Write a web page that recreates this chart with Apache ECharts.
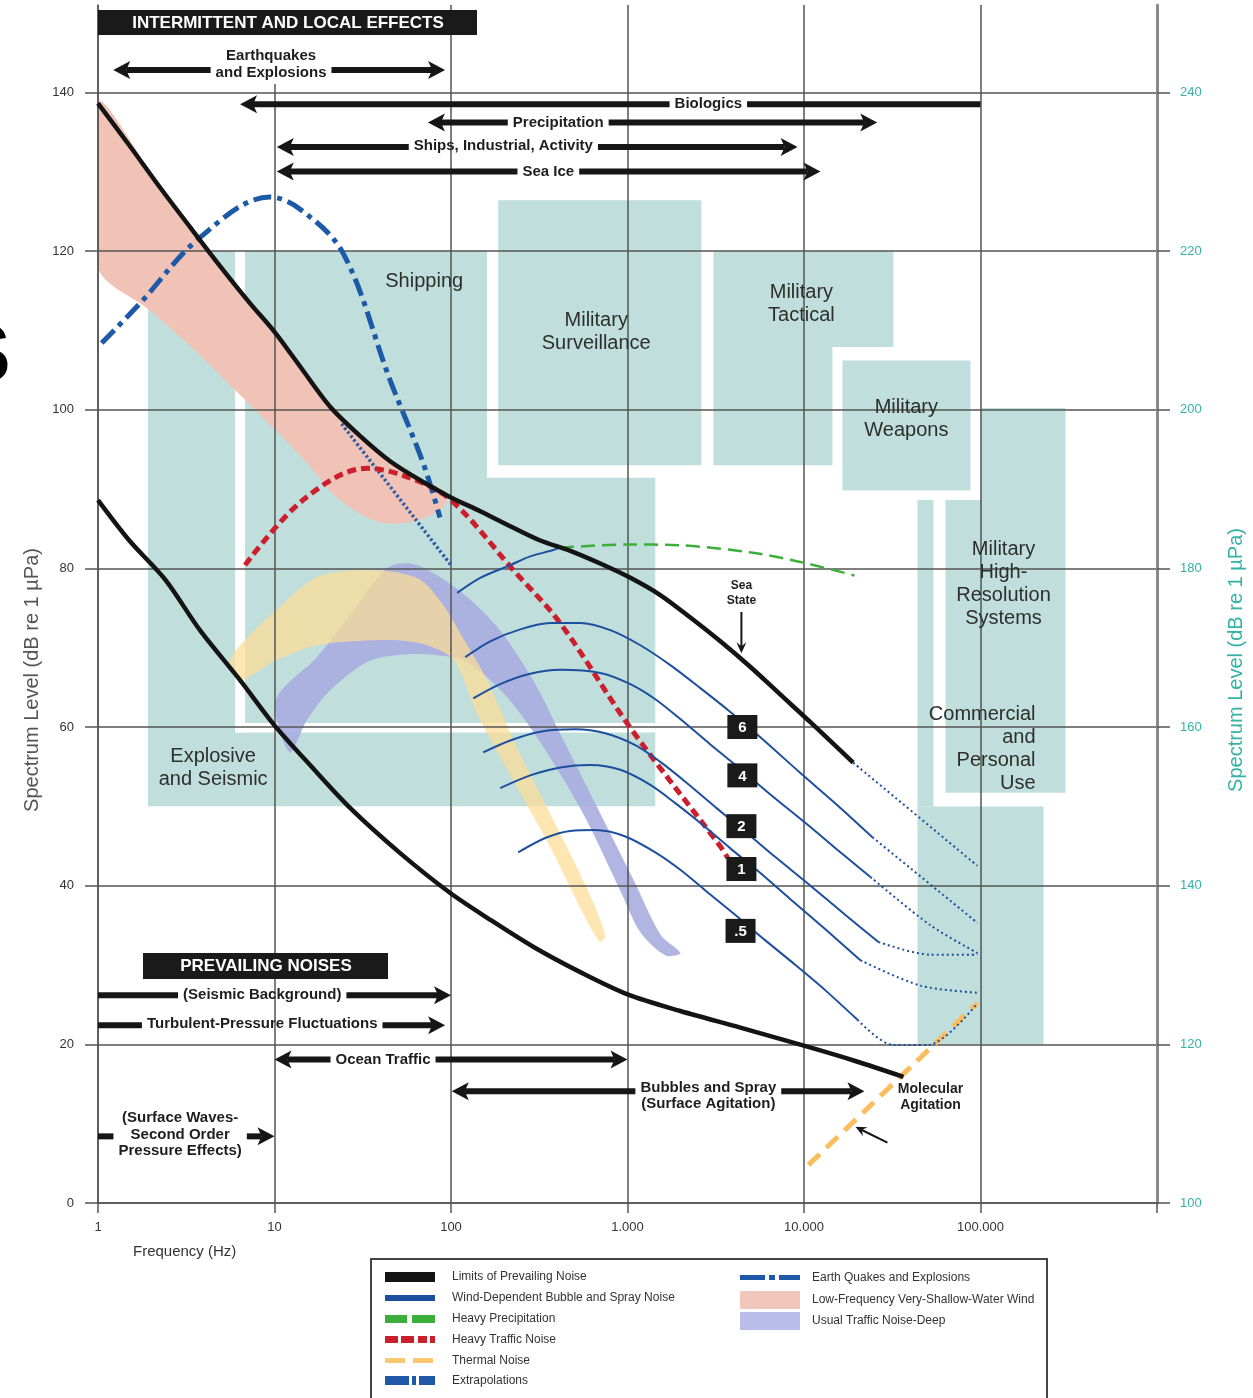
<!DOCTYPE html>
<html><head><meta charset="utf-8">
<script src="https://cdn.jsdelivr.net/npm/echarts@6/dist/echarts.min.js"></script>
<style>html,body{margin:0;padding:0;background:#fff}#c{width:1253px;height:1398px}</style>
</head><body><div id="c"></div>
<script>
// ---------------- DATA (frequency in Hz, level in dB re 1 µPa) ----------------
const xTickLabels = ['1', '10', '100', '1.000', '10.000', '100.000', ''];

const upperLimit = [[1,138.6],[1.518,133.2],[2.246,128.0],[3.326,123.0],[4.915,118.1],[7.27,113.4],[10,109.8],[13.9,105.5],[20.6,100.4],[30.5,96.7],[45.2,93.5],[66.9,91.1],[98.6,89.0],[146.4,87.2],[216.6,85.3],[320.3,83.5],[473.9,82.2],[701.1,80.6],[1038,78.8],[1540,76.6],[2270,73.8],[3358,70.8],[5010,67.5],[7330,64.1],[10870,60.6],[19000,55.5]];
const upperLimitExt = [[19000,55.5],[96000,42.5]];
const lowerLimit = [[1,88.6],[1.518,83.4],[2.398,78.6],[3.78,72.2],[6.38,65.9],[10,60.2],[15.9,55.2],[26.8,49.8],[51.5,44.1],[98.6,39.1],[166.8,35.7],[292,32.3],[540,29.1],[1000,26.3],[1992,24.2],[4360,22.1],[10450,19.7],[19500,17.9],[36600,15.9]];
const quakes = [[1.05,108.4],[1.73,113.4],[3.78,121.7],[9.4,126.8],[13.9,125.3],[24.5,119.7],[45.2,103.7],[69.7,93.2],[86.6,86.4]];
const trafficExt = [[24,98.2],[100,80.4]];
const heavyTraffic = [[6.81,80.4],[14.5,88.6],[33.5,92.6],[60,91.3],[100,88.6],[225,79.8],[415,73.1],[1030,60.0],[3370,44.9],[3700,43.5]];
const heavyPrecip = [[415,82.6],[1000,83.0],[1990,82.9],[5010,82.0],[9530,80.8],[19300,79.1]];
const thermal = [[10600,4.8],[96000,25.2]];

// wind-dependent bubble & spray noise (sea states)
const windTop = [[108.4,76.9],[146.4,78.8],[216.6,80.4],[281.2,81.5],[379.6,82.3],[415.9,82.6]];
const ss6 = [[120.4,68.8],[166.8,70.8],[246.8,72.3],[365.1,73.1],[540.1,73.1],[798.8,72.2],[1182,70.3],[1748,67.8],[2587,64.9],[3826,61.9],[5658,58.7],[9541,54.2],[16080,49.8],[24420,46.1]];
const ss6Ext = [[24420,46.1],[96160,35.3]];
const ss4 = [[133.6,63.6],[190.1,65.4],[281.2,66.7],[415.9,67.2],[701.1,66.8],[1037,65.4],[1437,63.5],[1992,61.0],[2947,57.8],[4360,54.7],[6449,51.5],[10870,47.4],[16080,44.2],[23790,41.1]];
const ss4Ext = [[23790,41.1],[52070,35.0],[96160,31.5]];
const ss2 = [[152.2,56.8],[216.6,58.3],[320.3,59.4],[505.9,59.7],[748.5,59.2],[1107,57.7],[1534,55.6],[2127,53.1],[3146,49.9],[4654,46.8],[6884,43.6],[10870,40.0],[17170,36.3],[26410,32.9]];
const ss2Ext = [[26410,32.9],[52070,31.3],[96160,31.3]];
const ss1 = [[190.1,52.3],[281.2,53.9],[415.9,54.9],[615.4,55.2],[910.4,54.6],[1347,52.7],[1866,50.4],[2587,47.9],[3826,44.7],[5658,41.6],[8374,38.3],[13220,34.5],[20870,30.6]];
const ss1Ext = [[20870,30.6],[45700,27.4],[96160,26.5]];
const ss05 = [[240.4,44.2],[342.0,46.0],[473.9,46.9],[656.9,47.0],[971.6,46.2],[1437,44.2],[1992,42.0],[2761,39.4],[4085,36.3],[6042,33.1],[8941,30.0],[13220,26.8],[20080,23.1]];
const ss05Ext = [[20080,23.1],[32120,19.9],[50060,19.9],[96160,25.2]];
const seaStates = ['6', '4', '2', '1', '.5'];
const seaStateAt = [[4475,60.0],[4475,53.9],[4420,47.5],[4420,42.1],[4370,34.3]];

// bands
const pinkF    = [1, 1.97, 3.78, 7.27, 13.9, 23.5, 39.7, 66.9, 92.6];
const pinkLow  = [117.9, 112.5, 106.9, 100.6, 94.3, 88.6, 85.8, 86.1, 88.0];
const pinkHigh = [138.6, 129.9, 121.3, 113.4, 105.5, 99.2, 94.6, 91.1, 89.3];
const shallowTrafficUpper = [[5.60,68.4],[7.27,71.6],[10.2,74.7],[17.4,78.9],[33.5,79.8],[64.1,78.8],[90.2,75.4],[117,71.2],[160,65.9],[235,57.5],[364,49.1],[560,40.7],[749,33.8]];
const shallowTrafficLower = [[701,32.9],[560,36.5],[364,44.9],[225,53.3],[140,61.7],[104,68.4],[73.4,70.3],[51.5,70.9],[33.5,70.9],[17.4,70.3],[10.2,68.4],[6.38,65.9]];
const deepTrafficUpper = [[10.2,63.4],[17.4,68.8],[26.8,74.1],[43.3,80.0],[58.7,80.6],[79.4,79.4],[123,76.4],[189,72.2],[292,65.9],[453,57.5],[701,49.1],[1083,40.7],[1540,33.8],[1992,31.5]];
const deepTrafficLower = [[1644,31.2],[1186,34.1],[909,39.4],[560,49.1],[333,57.5],[207,63.8],[123,68.2],[79.4,69.1],[51.5,69.1],[33.5,68.2],[20.6,64.6],[15.3,60.9],[12.2,56.8]];

// application zones: [fLow, fHigh, dBLow, dBHigh, kind]
const appZones = [
  [1.92, 1437, 50, 120, 'zone'],        // explosive & seismic / shipping
  [5.98, 6.81, 59.3, 120, 'gap'],
  [5.98, 1437, 59.3, 60.5, 'gap'],
  [160, 2800, 91.4, 127.5, 'gap'],
  [185, 2620, 93, 126.4, 'zone'],       // surveillance
  [3065, 32100, 93, 120, 'zone'],       // tactical
  [43950, 54150, 50, 88.6, 'zone'],     // commercial strip
  [43950, 227600, 20, 50, 'zone'],      // commercial
  [55590, 345600, 50, 101.4, 'gap'],
  [63320, 303300, 51.7, 100.2, 'zone'], // high resolution
  [14490, 100000, 88.6, 107.9, 'gap'],
  [16510, 87770, 89.8, 106.2, 'zone']   // weapons
];
const zoneNames = ['Shipping', 'Military\nSurveillance', 'Military\nTactical', 'Military\nWeapons', 'Military\nHigh-\nResolution\nSystems', 'Commercial\nand\nPersonal\nUse', 'Explosive\nand Seismic'];
const zoneLabelAt = [[70.5,116.2],[665,109.8],[9670,113.3],[38000,98.8],[135000,78.0],[205000,57.2],[4.49,54.8]];

// range arrows: [label, fFrom, fTo, dB level, headAtFrom, headAtTo]
const rangeArrows = [
  ['Earthquakes\nand Explosions', 1.22, 92.6, 142.8, 1, 1],
  ['Biologics', 6.38, 100000, 138.5, 1, 0],
  ['Precipitation', 74, 26000, 136.2, 1, 1],
  ['Ships, Industrial, Activity', 10.3, 9200, 133.1, 1, 1],
  ['Sea Ice', 10.3, 12400, 130.0, 1, 1],
  ['(Seismic Background)', 1, 100, 26.2, 0, 1],
  ['Turbulent-Pressure Fluctuations', 1, 92.6, 22.4, 0, 1],
  ['Ocean Traffic', 10, 1000, 18.1, 1, 1],
  ['Bubbles and Spray\n(Surface Agitation)', 101, 22000, 14.1, 1, 1],
  ['(Surface Waves-\nSecond Order\nPressure Effects)', 1, 10, 8.4, 0, 1]
];
const rangeLabelAt = [[9.56,143.5],[2870,138.5],[405,136.2],[198,133.2],[356,130.0],[8.52,26.2],[8.52,22.6],[41.2,18.1],[2870,13.5],[2.92,8.6]];
const pointerNotes = ['Sea\nState', 'Molecular\nAgitation'];
const pointerNoteAt = [[4420,76.9],[52100,13.4]];
const pointerArrows = [[[4420,74.5],[4420,69.3]], [[29700,7.6],[19560,9.6]]];

const legendLeft = ['Limits of Prevailing Noise', 'Wind-Dependent Bubble and Spray Noise', 'Heavy Precipitation', 'Heavy Traffic Noise', 'Thermal Noise', 'Extrapolations'];
const legendRight = ['Earth Quakes and Explosions', 'Low-Frequency Very-Shallow-Water Wind', 'Usual Traffic Noise-Deep'];

// ---------------- RENDER ----------------
const FONT = '"Liberation Sans", Arial, Helvetica, sans-serif';
const TEAL = '#bfdedc', BLUE = '#1d4f9f', DARK = '#2e2e2e';
const mctx = document.createElement('canvas').getContext('2d');
function textWidth(t, font) { mctx.font = font; return Math.max.apply(null, t.split('\n').map(s => mctx.measureText(s).width)); }
const LEG_FONT = '12px ' + FONT;

function lineSeries(name, data, color, width, type, smooth) {
  return { type: 'line', name, data, smooth: smooth == null ? 0.3 : smooth, showSymbol: false, symbol: 'none', silent: true, z: 3,
    lineStyle: { color, width, type: type || 'solid', cap: 'butt' } };
}
function bandSeries(name, pts, color, opacity) {
  return { type: 'custom', name, z: 1, silent: true, clip: true, data: pts, encode: { x: 0, y: 1 },
    renderItem(params, api) {
      if (params.dataIndex !== 0) return null;
      return { type: 'polygon', shape: { points: pts.map(p => api.coord(p)), smooth: 0.3 }, style: { fill: color, opacity } };
    } };
}
function head(tx, ty, ux, uy, L, W) {
  const nx = -uy, ny = ux;
  return { type: 'polygon', shape: { points: [[tx, ty], [tx - ux * L + nx * W, ty - uy * L + ny * W], [tx - ux * (L - 4), ty - uy * (L - 4)], [tx - ux * L - nx * W, ty - uy * L - ny * W]] }, style: { fill: '#161616' } };
}

const pinkPts = pinkF.map((f, i) => [f, pinkHigh[i] + 0.2]).concat(pinkF.map((f, i) => [f, pinkLow[i]]).reverse());

const series = [
  { type: 'custom', name: 'zones', z: 1, silent: true, data: appZones.map(d => [d[0], d[1], d[2], d[3]]), encode: { x: [0, 1], y: [2, 3] },
    renderItem(params, api) {
      const d = appZones[params.dataIndex];
      const p1 = api.coord([d[0], d[3]]), p2 = api.coord([d[1], d[2]]);
      return { type: 'rect', shape: { x: p1[0], y: p1[1], width: p2[0] - p1[0], height: p2[1] - p1[1] }, style: { fill: d[4] === 'gap' ? '#ffffff' : TEAL } };
    } },
  bandSeries('Low-Frequency Very-Shallow-Water Wind', pinkPts, '#f1c3b6', 1),
  bandSeries('Usual Traffic Noise-Deep', deepTrafficUpper.concat(deepTrafficLower), '#a9addf', 0.9),
  bandSeries('Usual Traffic Noise-Shallow', shallowTrafficUpper.concat(shallowTrafficLower), '#fddc95', 0.72),
  lineSeries('Earth Quakes and Explosions', quakes, '#1c5aa8', 5, [18, 6, 5, 6], 0.35),
  lineSeries('Extrapolations', trafficExt, '#2b5ca8', 3.5, [2.5, 2.5]),
  lineSeries('Heavy Traffic Noise', heavyTraffic, '#cc1f2d', 5, [9, 5], 0.35),
  lineSeries('Heavy Precipitation', heavyPrecip, '#3cae3a', 2.5, [14, 7]),
  lineSeries('Thermal Noise', thermal, '#fbbd5e', 5, [16, 9]),
  lineSeries('Wind', windTop, BLUE, 2),
  lineSeries('Sea state 6', ss6, BLUE, 2),
  lineSeries('Sea state 4', ss4, BLUE, 2),
  lineSeries('Sea state 2', ss2, BLUE, 2),
  lineSeries('Sea state 1', ss1, BLUE, 2),
  lineSeries('Sea state .5', ss05, BLUE, 2),
  lineSeries('ext6', ss6Ext, BLUE, 2, [2, 3]),
  lineSeries('ext4', ss4Ext, BLUE, 2, [2, 3]),
  lineSeries('ext2', ss2Ext, BLUE, 2, [2, 3]),
  lineSeries('ext1', ss1Ext, BLUE, 2, [2, 3]),
  lineSeries('ext05', ss05Ext, BLUE, 2, [2, 3]),
  lineSeries('extUpper', upperLimitExt, BLUE, 2, [2, 3]),
  lineSeries('Limits of Prevailing Noise', upperLimit, '#141414', 4.5),
  lineSeries('Limits of Prevailing Noise (lower)', lowerLimit, '#141414', 4.5),
  { type: 'custom', name: 'ranges', z: 5, silent: true, data: rangeArrows.map(a => [a[1], a[3], a[2]]), encode: { x: [0, 2], y: 1 },
    renderItem(params, api) {
      const i = params.dataIndex, a = rangeArrows[i];
      const p1 = api.coord([a[1], a[3]]), p2 = api.coord([a[2], a[3]]), lp = api.coord(rangeLabelAt[i]);
      const font = 'bold 15px ' + FONT;
      const gw = textWidth(a[0], font) / 2 + 5;
      const y = p1[1], HL = 17, HW = 9, SW = 6;
      const ch = [];
      const xs = p1[0] + (a[4] ? HL - 4 : 0), xe = p2[0] - (a[5] ? HL - 4 : 0);
      const gl = lp[0] - gw, gr = lp[0] + gw;
      if (gl > xs) ch.push({ type: 'rect', shape: { x: xs, y: y - SW / 2, width: Math.min(gl, xe) - xs, height: SW }, style: { fill: '#161616' } });
      if (gr < xe) ch.push({ type: 'rect', shape: { x: Math.max(gr, xs), y: y - SW / 2, width: xe - Math.max(gr, xs), height: SW }, style: { fill: '#161616' } });
      if (a[4]) ch.push(head(p1[0], y, -1, 0, HL, HW));
      if (a[5]) ch.push(head(p2[0], y, 1, 0, HL, HW));
      ch.push({ type: 'text', x: lp[0], y: lp[1], style: { text: a[0], font, fill: '#1e1e1e', align: 'center', verticalAlign: 'middle', lineHeight: 16.5 } });
      return { type: 'group', children: ch };
    } },
  { type: 'custom', name: 'pointers', z: 5, silent: true, data: pointerNoteAt, encode: { x: 0, y: 1 },
    renderItem(params, api) {
      const i = params.dataIndex;
      const p = api.coord(pointerNoteAt[i]);
      const a = api.coord(pointerArrows[i][0]), b = api.coord(pointerArrows[i][1]);
      const dx = b[0] - a[0], dy = b[1] - a[1], L = Math.hypot(dx, dy), ux = dx / L, uy = dy / L;
      return { type: 'group', children: [
        { type: 'line', shape: { x1: a[0], y1: a[1], x2: b[0] - ux * 6, y2: b[1] - uy * 6 }, style: { stroke: '#161616', lineWidth: 2 } },
        head(b[0], b[1], ux, uy, 11, 5),
        { type: 'text', x: p[0], y: p[1], style: { text: pointerNotes[i], font: (i === 0 ? 'bold 12px ' : 'bold 14px ') + FONT, fill: '#1e1e1e', align: 'center', verticalAlign: 'middle', lineHeight: i === 0 ? 15 : 16 } }
      ] };
    } },
  { type: 'custom', name: 'seaStateTags', z: 5, silent: true, data: seaStateAt, encode: { x: 0, y: 1 },
    renderItem(params, api) {
      const p = api.coord(seaStateAt[params.dataIndex]);
      return { type: 'group', children: [
        { type: 'rect', shape: { x: p[0] - 15, y: p[1] - 12, width: 30, height: 24 }, style: { fill: '#1a1a1a' } },
        { type: 'text', x: p[0], y: p[1] + 1, style: { text: seaStates[params.dataIndex], font: 'bold 15px ' + FONT, fill: '#ffffff', align: 'center', verticalAlign: 'middle' } }
      ] };
    } },
  { type: 'custom', name: 'zoneNames', z: 5, silent: true, data: zoneLabelAt, encode: { x: 0, y: 1 },
    renderItem(params, api) {
      const i = params.dataIndex, p = api.coord(zoneLabelAt[i]);
      const right = zoneNames[i].indexOf('Commercial') === 0;
      return { type: 'text', x: p[0], y: p[1], style: { text: zoneNames[i], font: '20px ' + FONT, fill: DARK, align: right ? 'right' : 'center', verticalAlign: 'middle', lineHeight: 23 } };
    } }
];

// legend drawn as graphic
const LY = [1277, 1298, 1319, 1340, 1361, 1381], RY = [1278, 1300, 1321];
function r(x, y, w, h, c) { return { type: 'rect', shape: { x, y, width: w, height: h }, style: { fill: c } }; }
const legendEls = [
  { type: 'rect', shape: { x: 371, y: 1259, width: 676, height: 150 }, style: { fill: '#fff', stroke: '#444', lineWidth: 2 } },
  r(385, LY[0] - 5, 50, 10, '#141414'),
  r(385, LY[1] - 3, 50, 6, BLUE),
  r(385, LY[2] - 4, 22, 8, '#3cae3a'), r(412, LY[2] - 4, 23, 8, '#3cae3a'),
  r(385, LY[3] - 4, 13, 7, '#cc1f2d'), r(401, LY[3] - 4, 13, 7, '#cc1f2d'), r(418, LY[3] - 4, 9, 7, '#cc1f2d'), r(430, LY[3] - 4, 5, 7, '#cc1f2d'),
  r(385, LY[4] - 3, 20, 5, '#fbc870'), r(413, LY[4] - 3, 20, 5, '#fbc870'),
  r(385, LY[5] - 5, 24, 9, '#1f58a6'), r(412, LY[5] - 5, 4, 9, '#1f58a6'), r(419, LY[5] - 5, 16, 9, '#1f58a6'),
  r(740, RY[0] - 3, 25, 5, '#1f58a6'), r(769, RY[0] - 3, 6, 5, '#1f58a6'), r(779, RY[0] - 3, 21, 5, '#1f58a6'),
  r(740, RY[1] - 9, 60, 18, '#f2c6ba'),
  r(740, RY[2] - 9, 60, 18, '#b9bde8')
];
legendLeft.forEach((t, i) => legendEls.push({ type: 'text', x: 452, y: LY[i], style: { text: t, font: LEG_FONT, fill: '#333', align: 'left', verticalAlign: 'middle' } }));
legendRight.forEach((t, i) => legendEls.push({ type: 'text', x: 812, y: RY[i], style: { text: t, font: LEG_FONT, fill: '#333', align: 'left', verticalAlign: 'middle' } }));

const graphic = [
  { type: 'rect', x: 272, y: 0, z: 3, shape: { width: 7, height: 84 }, style: { fill: '#ffffff' } },
  { type: 'text', x: -44, y: 358, z: 10, style: { text: 'S', font: 'bold 82px ' + FONT, fill: '#000', align: 'left', verticalAlign: 'middle' } },
  { type: 'rect', x: 98, y: 10, z: 10, shape: { width: 379, height: 25 }, style: { fill: '#1a1a1a' } },
  { type: 'text', x: 288, y: 23, z: 11, style: { text: 'INTERMITTENT AND LOCAL EFFECTS', font: 'bold 17px ' + FONT, fill: '#fff', align: 'center', verticalAlign: 'middle' } },
  { type: 'rect', x: 143, y: 953, z: 10, shape: { width: 245, height: 26 }, style: { fill: '#1a1a1a' } },
  { type: 'text', x: 266, y: 966, z: 11, style: { text: 'PREVAILING NOISES', font: 'bold 17px ' + FONT, fill: '#fff', align: 'center', verticalAlign: 'middle' } },
  { type: 'text', x: 32, y: 680, rotation: Math.PI / 2, z: 10, style: { text: 'Spectrum Level (dB re 1 µPa)', font: '20px ' + FONT, fill: '#555', align: 'center', verticalAlign: 'middle' } },
  { type: 'text', x: 1236, y: 660, rotation: Math.PI / 2, z: 10, style: { text: 'Spectrum Level (dB re 1 µPa)', font: '20px ' + FONT, fill: '#33b2a6', align: 'center', verticalAlign: 'middle' } },
  { type: 'text', x: 133, y: 1252, z: 10, style: { text: 'Frequency (Hz)', font: '15px ' + FONT, fill: '#333', align: 'left', verticalAlign: 'middle' } },
  { type: 'group', z: 10, children: legendEls }
];

const GRIDC = '#555';
const option = {
  animation: false,
  backgroundColor: '#fff',
  grid: { left: 98, right: 96, top: 5, bottom: 195, containLabel: false },
  xAxis: { type: 'log', logBase: 10, min: 1, max: 1000000, z: 2,
    axisLine: { show: true, lineStyle: { color: GRIDC, width: 1.5 } },
    axisTick: { show: true, length: 10, lineStyle: { color: GRIDC, width: 1.5 } },
    axisLabel: { margin: 18, fontSize: 13, color: '#333', fontFamily: FONT, formatter: v => xTickLabels[Math.round(Math.log10(v))] || '' },
    splitLine: { show: true, lineStyle: { color: GRIDC, width: 1.5 } }, minorTick: { show: false } },
  yAxis: [
    { type: 'value', min: 0, max: 151, interval: 20, position: 'left', z: 2,
      axisLine: { show: true, lineStyle: { color: GRIDC, width: 1.5 } },
      axisTick: { show: true, length: 13, lineStyle: { color: GRIDC, width: 1.5 } },
      axisLabel: { margin: 24, fontSize: 13, color: '#333', fontFamily: FONT, showMaxLabel: false, formatter: v => (v > 140 ? '' : String(v)) },
      splitLine: { show: true, showMaxLine: false, lineStyle: { color: GRIDC, width: 1.5 } } },
    { type: 'value', min: 100, max: 251, interval: 20, position: 'right', z: 2,
      axisLine: { show: true, lineStyle: { color: '#8a8a8a', width: 3 } },
      axisTick: { show: true, length: 13, lineStyle: { color: GRIDC, width: 1.5 } },
      axisLabel: { margin: 23, fontSize: 13, color: '#33b2a6', fontFamily: FONT, showMaxLabel: false, formatter: v => (v > 240 ? '' : String(v)) },
      splitLine: { show: false } }
  ],
  series,
  graphic
};
const chart = echarts.init(document.getElementById('c'), null, { renderer: 'canvas' });
chart.setOption(option);
</script></body></html>
